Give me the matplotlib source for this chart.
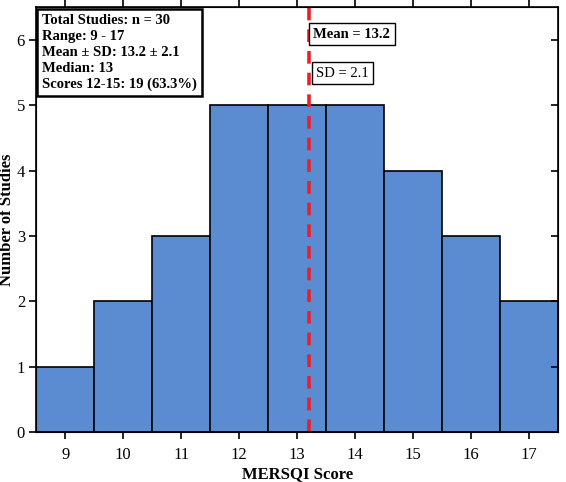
import matplotlib.pyplot as plt

plt.rcParams['font.family'] = ['Liberation Serif', 'DejaVu Serif']

scores = [9, 10, 11, 12, 13, 14, 15, 16, 17]
counts = [1, 2, 3, 5, 5, 5, 4, 3, 2]
mean_score = 13.2
sd_score = 2.1
stats_lines = [
    "Total Studies: n = 30",
    "Range: 9 - 17",
    "Mean \u00b1 SD: 13.2 \u00b1 2.1",
    "Median: 13",
    "Scores 12-15: 19 (63.3%)",
]

fig = plt.figure(figsize=(5.66, 4.82), dpi=100)
ax = fig.add_axes([0.064, 0.104, 0.922, 0.881])

ax.bar(scores, counts, width=1.0, color='#5b8bd0', edgecolor='black', linewidth=1.2)
ax.axvline(mean_score, color='#e8202a', linestyle=(0, (3.5, 2.5)), linewidth=2.6)

ax.set_xlim(8.5, 17.5)
ax.set_ylim(0, 6.5)
ax.set_xticks(scores)
ax.set_yticks(range(0, 7))
ax.tick_params(axis='both', labelsize=12, length=5, width=1.2)
ax.tick_params(axis='x', direction='out', top=True, pad=6)
ax.tick_params(axis='y', direction='out', pad=3)
for side in ax.spines.values():
    side.set_linewidth(1.2)
# right ticks point inward
ax2 = ax.twinx()
ax2.set_ylim(ax.get_ylim())
ax2.set_yticks(range(0, 7))
ax2.tick_params(axis='y', direction='in', length=5, width=1.2, labelright=False)

ax.set_xlabel("MERSQI Score", fontsize=12, fontweight='bold', labelpad=2)
ax.set_ylabel("Number of Studies", fontsize=12, fontweight='bold')
ax.yaxis.set_label_coords(-0.04, 0.5)

ax.text(0.012, 0.985, "\n".join(stats_lines), transform=ax.transAxes, ha='left', va='top',
        fontsize=10.5, fontweight='bold', linespacing=1.3,
        bbox=dict(boxstyle='square,pad=0.35', facecolor='white', edgecolor='black', linewidth=1.8))

ax.text(mean_score + 0.08, 6.09, f"Mean = {mean_score}", ha='left', va='center',
        fontsize=10.5, fontweight='bold',
        bbox=dict(boxstyle='square,pad=0.3', facecolor='white', edgecolor='black', linewidth=1.0))
ax.text(mean_score + 0.13, 5.49, f"SD = {sd_score}", ha='left', va='center',
        fontsize=10.5,
        bbox=dict(boxstyle='square,pad=0.3', facecolor='white', edgecolor='black', linewidth=1.0))

fig.savefig("out.png", dpi=100)
